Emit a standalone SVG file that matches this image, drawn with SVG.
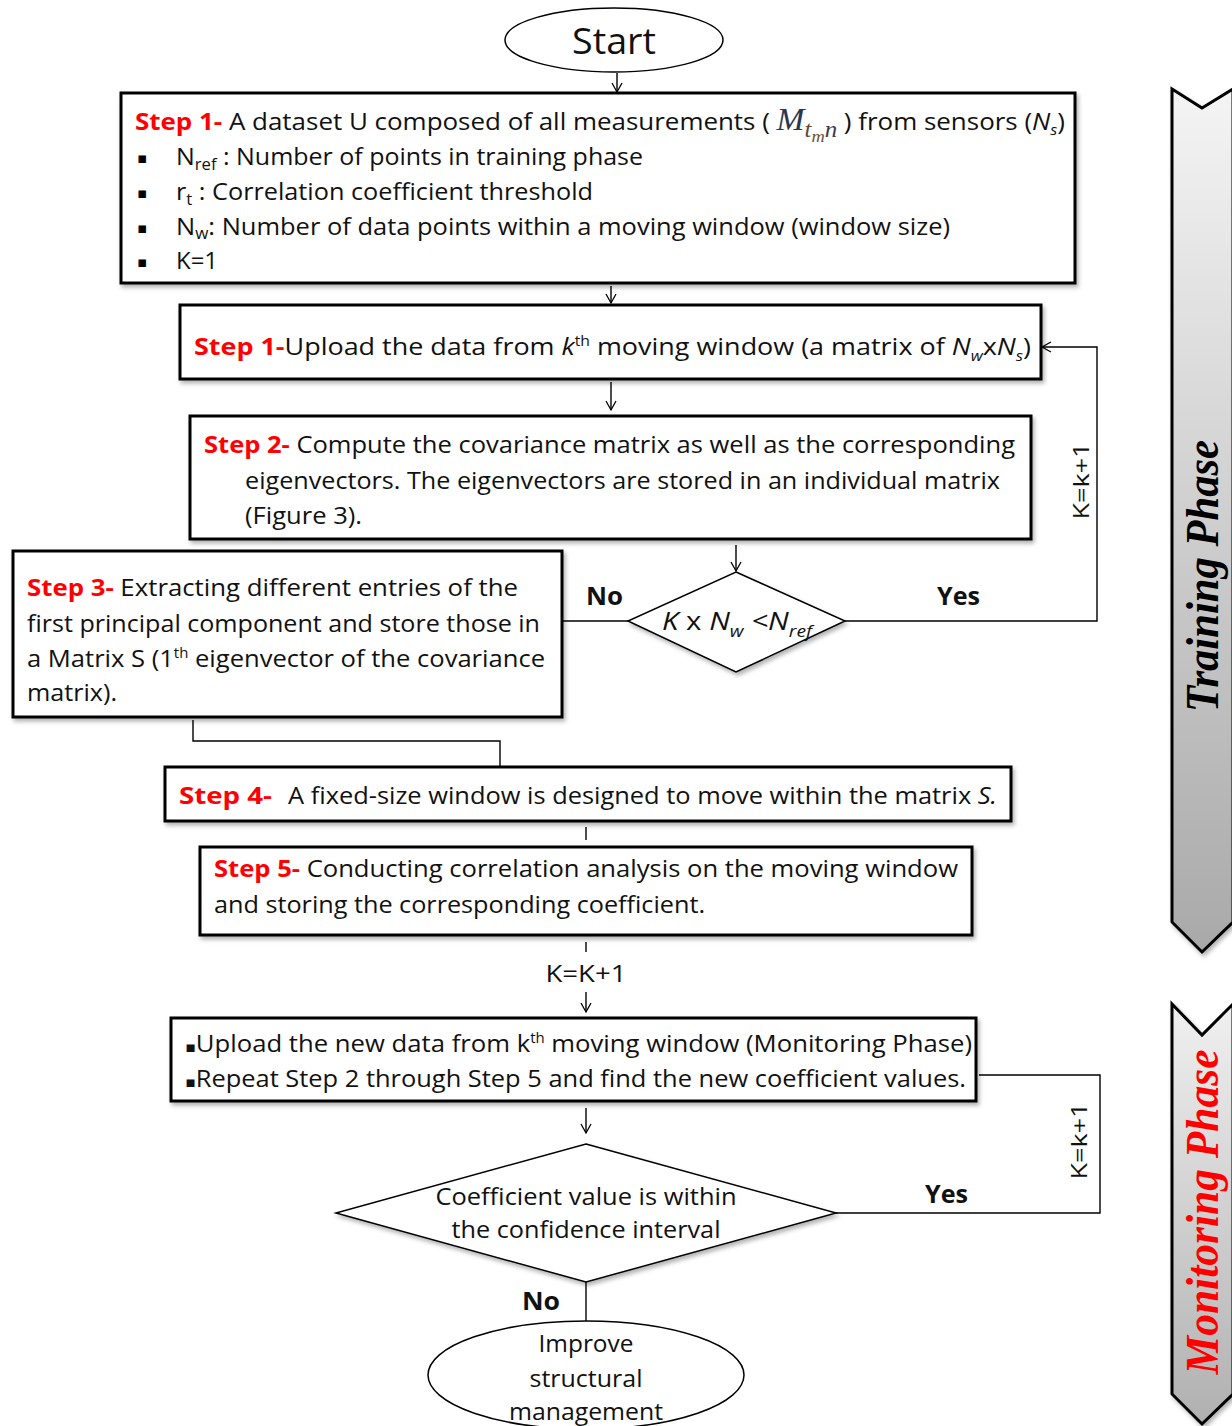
<svg xmlns="http://www.w3.org/2000/svg" width="1232" height="1426" viewBox="0 0 1232 1426">
<defs>
<style>
.t{font-family:"Open Sans",Lato,"Liberation Sans",sans-serif;font-size:24px;fill:#111}
.red{fill:#ff0000;font-weight:bold}
.b{font-weight:bold}
.i{font-style:italic}
.box{fill:#fff;stroke:#000;stroke-width:3}
.ln{fill:none;stroke:#000;stroke-width:1.4}
.sh{filter:url(#shadow)}
.ban{font-family:"Liberation Serif","Times New Roman",serif;font-weight:bold;font-style:italic;font-size:46px}
.bul{font-family:"DejaVu Sans",sans-serif;font-size:15px}
</style>
<filter id="shadow" x="-5%" y="-5%" width="112%" height="125%">
<feDropShadow dx="2" dy="3" stdDeviation="2" flood-color="#000" flood-opacity="0.3"/>
</filter>
<marker id="arr" markerWidth="12" markerHeight="12" refX="10" refY="6" orient="auto" markerUnits="userSpaceOnUse">
<path d="M1,1 L10,6 L1,11" fill="none" stroke="#000" stroke-width="1.3"/>
</marker>
<linearGradient id="gband" x1="0" y1="0" x2="0" y2="1">
<stop offset="0" stop-color="#f4f4f4"/>
<stop offset="1" stop-color="#a9a9a9"/>
</linearGradient>
<linearGradient id="gband2" x1="0" y1="0" x2="0" y2="1">
<stop offset="0" stop-color="#f0f0f0"/>
<stop offset="1" stop-color="#b0b0b0"/>
</linearGradient>
</defs>
<rect width="1232" height="1426" fill="#fff"/>

<g id="connectors">
<line class="ln" x1="617" y1="73" x2="617" y2="92" marker-end="url(#arr)"/>
<line class="ln" x1="611" y1="286" x2="611" y2="303" marker-end="url(#arr)"/>
<line class="ln" x1="611" y1="382" x2="611" y2="410" marker-end="url(#arr)"/>
<line class="ln" x1="736" y1="545" x2="736" y2="571" marker-end="url(#arr)"/>
<line class="ln" x1="628" y1="621" x2="563" y2="621"/>
<polyline class="ln" points="845,621 1097,621 1097,347 1042,347" marker-end="url(#arr)"/>
<polyline class="ln" points="193,720 193,741 500,741 500,766"/>
<line class="ln" x1="586" y1="827" x2="586" y2="840" stroke="#555"/>
<line class="ln" x1="586" y1="942" x2="586" y2="952" stroke="#555"/>
<line class="ln" x1="586" y1="992" x2="586" y2="1012" marker-end="url(#arr)"/>
<polyline class="ln" points="979,1075 1100,1075 1100,1213 836,1213"/>
<line class="ln" x1="586" y1="1108" x2="586" y2="1133" marker-end="url(#arr)"/>
<line class="ln" x1="586" y1="1282" x2="586" y2="1321"/>
<text class="t b" x="586" y="605" style="font-size:25px" textLength="37" lengthAdjust="spacingAndGlyphs">No</text>
<text class="t b" x="937" y="605" style="font-size:25px" textLength="43" lengthAdjust="spacingAndGlyphs">Yes</text>
<text class="t" transform="translate(1089,481) rotate(-90)" text-anchor="middle" style="font-size:22px" textLength="77" lengthAdjust="spacingAndGlyphs">K=k+1</text>
<text class="t" x="586" y="982" text-anchor="middle" textLength="81" lengthAdjust="spacingAndGlyphs">K=K+1</text>
<text class="t" transform="translate(1087,1141) rotate(-90)" text-anchor="middle" style="font-size:22px" textLength="77" lengthAdjust="spacingAndGlyphs">K=k+1</text>
<text class="t b" x="925" y="1203" style="font-size:25px" textLength="43" lengthAdjust="spacingAndGlyphs">Yes</text>
<text class="t b" x="522" y="1310" style="font-size:25px" textLength="38" lengthAdjust="spacingAndGlyphs">No</text>
</g>

<g id="start">
<ellipse cx="614" cy="40" rx="109" ry="32" fill="#fff" stroke="#000" stroke-width="1.5"/>
<text class="t" x="614" y="54" text-anchor="middle" style="font-size:37px" textLength="84" lengthAdjust="spacingAndGlyphs">Start</text>
</g>

<g id="step1-init">
<rect class="box sh" x="121" y="93" width="954" height="190"/>
<text class="t" x="135" y="130" textLength="930" lengthAdjust="spacingAndGlyphs"><tspan class="red">Step 1-</tspan> A dataset U composed of all measurements ( <tspan font-family="'Liberation Serif',serif" font-style="italic" font-size="31" fill="#2a3550">M</tspan><tspan font-family="'Liberation Serif',serif" font-style="italic" font-size="23" fill="#5a4a3a" dy="7">t</tspan><tspan font-family="'Liberation Serif',serif" font-style="italic" font-size="17" fill="#6a5030" dy="5">m</tspan><tspan font-family="'Liberation Serif',serif" font-style="italic" font-size="23" fill="#3a3a50" dy="-5">n</tspan><tspan dy="-7"> ) from sensors (</tspan><tspan class="i">N</tspan><tspan class="i" font-size="15" dy="5">s</tspan><tspan dy="-5">)</tspan></text>
<text class="bul" x="137" y="163">▪</text>
<text class="t" x="176" y="165" textLength="467" lengthAdjust="spacingAndGlyphs">N<tspan font-size="16" dy="5">ref</tspan><tspan dy="-5"> : Number of points in training phase</tspan></text>
<text class="bul" x="137" y="198">▪</text>
<text class="t" x="176" y="200" textLength="417" lengthAdjust="spacingAndGlyphs">r<tspan font-size="16" dy="5">t</tspan><tspan dy="-5"> : Correlation coefficient threshold</tspan></text>
<text class="bul" x="137" y="233">▪</text>
<text class="t" x="176" y="235" textLength="774" lengthAdjust="spacingAndGlyphs">N<tspan font-size="16" dy="4">w</tspan><tspan dy="-4">: Number of data points within a moving window (window size)</tspan></text>
<text class="bul" x="137" y="267">▪</text>
<text class="t" x="176" y="269" textLength="42" lengthAdjust="spacingAndGlyphs">K=1</text>
</g>

<g id="step1-upload">
<rect class="box sh" x="180" y="305" width="861" height="74"/>
<text class="t" x="194" y="355" textLength="837" lengthAdjust="spacingAndGlyphs"><tspan class="red">Step 1-</tspan>Upload the data from <tspan class="i">k</tspan><tspan font-size="14" dy="-9">th</tspan><tspan dy="9">  moving window (a matrix of </tspan><tspan class="i">N</tspan><tspan class="i" font-size="15" dy="6">w</tspan><tspan dy="-6">x</tspan><tspan class="i">N</tspan><tspan class="i" font-size="15" dy="6">s</tspan><tspan dy="-6">)</tspan></text>
</g>

<g id="step2">
<rect class="box sh" x="190" y="416" width="841" height="123"/>
<text class="t" x="204" y="453" textLength="811" lengthAdjust="spacingAndGlyphs"><tspan class="red">Step 2-</tspan> Compute the covariance matrix as well as the corresponding</text>
<text class="t" x="245" y="489" textLength="755" lengthAdjust="spacingAndGlyphs">eigenvectors. The eigenvectors are stored in an individual matrix</text>
<text class="t" x="245" y="524" textLength="117" lengthAdjust="spacingAndGlyphs">(Figure 3).</text>
</g>

<g id="decision1">
<polygon class="sh" points="736,572 845,621 736,672 628,621" fill="#fff" stroke="#000" stroke-width="1.5"/>
<text class="t i" x="662" y="630" style="font-size:26px" textLength="150" lengthAdjust="spacingAndGlyphs">K <tspan font-style="normal">x</tspan> N<tspan font-size="17" dy="7">w</tspan><tspan dy="-7"> &lt;N</tspan><tspan font-size="17" dy="7">ref</tspan></text>
</g>

<g id="step3">
<rect class="box sh" x="13" y="551" width="549" height="166"/>
<text class="t" x="27" y="596" textLength="491" lengthAdjust="spacingAndGlyphs"><tspan class="red">Step 3-</tspan> Extracting different entries of the</text>
<text class="t" x="27" y="632" textLength="513" lengthAdjust="spacingAndGlyphs">first principal component and store those in</text>
<text class="t" x="27" y="667" textLength="518" lengthAdjust="spacingAndGlyphs">a Matrix S (1<tspan font-size="14" dy="-9">th</tspan><tspan dy="9"> eigenvector of the covariance</tspan></text>
<text class="t" x="27" y="701" textLength="90" lengthAdjust="spacingAndGlyphs">matrix).</text>
</g>

<g id="step4">
<rect class="box sh" x="165" y="767" width="846" height="54"/>
<text class="t" x="179" y="804" textLength="93" lengthAdjust="spacingAndGlyphs"><tspan class="red">Step 4-</tspan></text>
<text class="t" x="288" y="804" textLength="709" lengthAdjust="spacingAndGlyphs">A fixed-size window is designed to move within the matrix <tspan class="i">S.</tspan></text>
</g>

<g id="step5">
<rect class="box sh" x="200" y="847" width="772" height="88"/>
<text class="t" x="214" y="877" textLength="744" lengthAdjust="spacingAndGlyphs"><tspan class="red">Step 5-</tspan> Conducting correlation analysis on the moving window</text>
<text class="t" x="214" y="913" textLength="491" lengthAdjust="spacingAndGlyphs">and storing the corresponding coefficient.</text>
</g>

<g id="monitor">
<rect class="box sh" x="171" y="1018" width="805" height="83"/>
<text class="t" x="185" y="1052" textLength="787" lengthAdjust="spacingAndGlyphs"><tspan class="bul" font-size="13">▪</tspan>Upload the new data from k<tspan font-size="14" dy="-9">th</tspan><tspan dy="9">  moving window (Monitoring Phase)</tspan></text>
<text class="t" x="185" y="1087" textLength="781" lengthAdjust="spacingAndGlyphs"><tspan class="bul" font-size="13">▪</tspan>Repeat Step 2 through Step 5 and find the new coefficient values.</text>
</g>

<g id="decision2">
<polygon class="sh" points="586,1144 836,1213 586,1282 336,1213" fill="#fff" stroke="#000" stroke-width="1.5"/>
<text class="t" x="586" y="1205" text-anchor="middle" textLength="301" lengthAdjust="spacingAndGlyphs">Coefficient value is within</text>
<text class="t" x="586" y="1238" text-anchor="middle" textLength="269" lengthAdjust="spacingAndGlyphs">the confidence interval</text>
</g>

<g id="end">
<ellipse cx="586" cy="1375" rx="158" ry="54" fill="#fff" stroke="#000" stroke-width="1.5"/>
<text class="t" x="586" y="1352" text-anchor="middle" textLength="95" lengthAdjust="spacingAndGlyphs">Improve</text>
<text class="t" x="586" y="1387" text-anchor="middle" textLength="113" lengthAdjust="spacingAndGlyphs">structural</text>
<text class="t" x="586" y="1420" text-anchor="middle" textLength="154" lengthAdjust="spacingAndGlyphs">management</text>
</g>

<g id="training-phase">
<polygon points="1172,89 1202,108 1233,89 1233,922 1202,952 1172,922" fill="url(#gband)" stroke="#000" stroke-width="3" class="sh"/>
<text class="ban" transform="translate(1218,576) rotate(-90)" text-anchor="middle" fill="#000" textLength="272" lengthAdjust="spacingAndGlyphs">Training Phase</text>
</g>

<g id="monitoring-phase">
<polygon points="1172,1004 1202,1035 1233,1004 1233,1394 1202,1424 1172,1394" fill="url(#gband2)" stroke="#000" stroke-width="3" class="sh"/>
<text class="ban" transform="translate(1218,1212) rotate(-90)" text-anchor="middle" fill="#ff0000" textLength="325" lengthAdjust="spacingAndGlyphs">Monitoring Phase</text>
</g>
</svg>
